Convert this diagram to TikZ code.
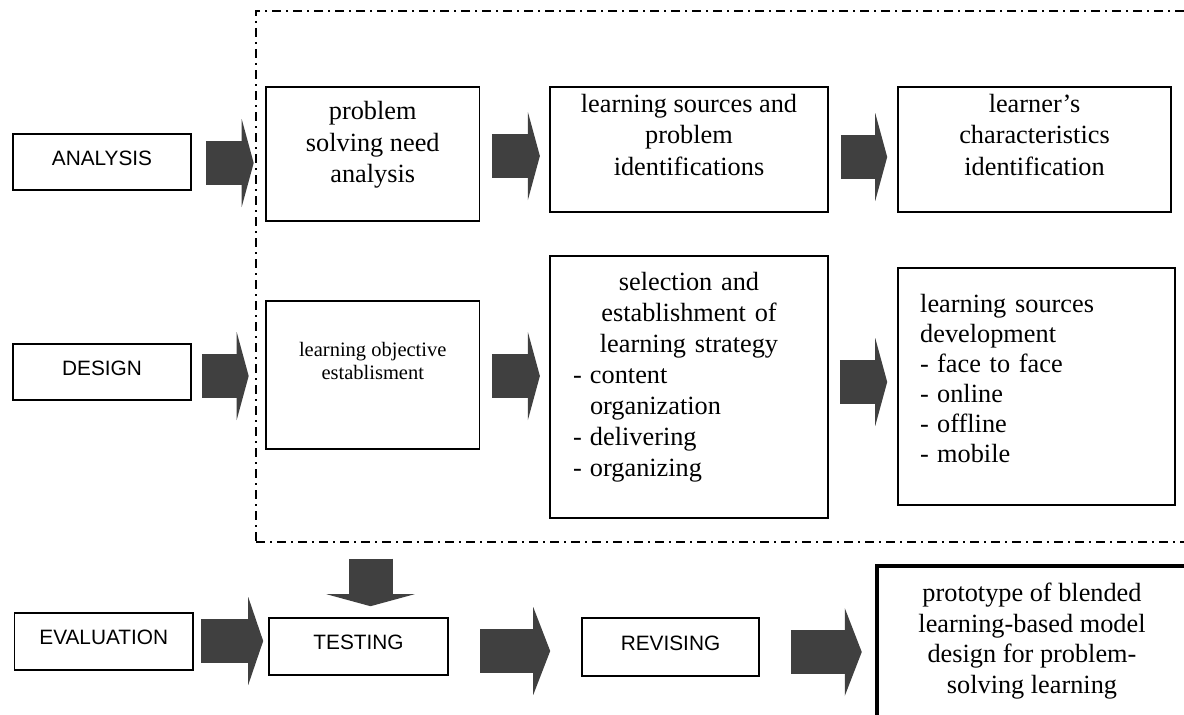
\documentclass[tikz,border=0pt]{standalone}
\usepackage{fontspec}
\setmainfont{Liberation Serif}
\setsansfont{Liberation Sans}
\usetikzlibrary{arrows.meta}
\definecolor{arrowgrey}{HTML}{404040}
\newcommand{\itm}{\makebox[17pt][l]{-}}

\begin{document}
\begin{tikzpicture}[x=1pt, y=-1pt,
    box/.style = {draw, line width=1.6pt, inner sep=0pt},
    phase/.style = {box, text depth=8pt, font=\sffamily\fontsize{20.8}{25}\selectfont},
    task/.style = {align=center, inner sep=0pt, font=\fontsize{26.3}{31.5}\selectfont},
    list/.style = {text width=#1, inner sep=0pt, font=\fontsize{26.3}{31}\selectfont},
    fat/.style = {color=arrowgrey, line width=44pt, -{Triangle[length=#1, width=88pt, line width=0pt]}},
    fat/.default = 12pt,
    frame/.style = {draw, line width=1.4pt, dash pattern=on 9pt off 5pt on 2pt off 5pt}]
\useasboundingbox (0,0) rectangle (1184,715);
\clip (0,0) rectangle (1184,715);

% dash-dotted frame round analysis and design
\node[frame, minimum width=944pt, minimum height=531pt] (phase) at (728,276.5) {};

% phases
\node[phase, minimum width=178pt, minimum height=56pt] (ana) at (102,162) {ANALYSIS};
\node[phase, minimum width=178pt, minimum height=56pt] (des) at (102,372) {DESIGN};
\node[phase, minimum width=178.5pt, minimum height=57pt] (eva) at (103.75,641.5) {EVALUATION};

% analysis
\node[box, minimum width=213.5pt, minimum height=134pt] (solve) at (372.75,154) {};
\node[task] (solveT) at (372.75,145) {problem\\solving need\\analysis};
\node[box, minimum width=278pt, minimum height=125pt] (ident) at (689,149.5) {};
\node[task] (identT) at (689,135) {learning sources and\\problem\\identifications};
\node[box, minimum width=273pt, minimum height=125pt] (learner) at (1034.5,149.5) {};
\node[task] (learnerT) at (1034.5,135) {learner’s\\characteristics\\identification};

% design
\node[box, minimum width=213.5pt, minimum height=148pt] (objective) at (372.75,375) {};
\node[task, font=\fontsize{20.5}{22.5}\selectfont] (objectiveT) at (372.75,361) {learning objective\\establisment};
\node[box, minimum width=278pt, minimum height=262pt] (strategy) at (689,387) {};
\node[list=262pt] (strategyT) at (689,377.5) {{\centering selection and\\establishment of\\learning strategy\par}
  \hspace*{15pt}\itm content\\
  \hspace*{32pt}organization\\
  \hspace*{15pt}\itm delivering\\
  \hspace*{15pt}\itm organizing};
\node[box, minimum width=277pt, minimum height=237pt] (media) at (1036.5,386.5) {};
\node[list=240pt, font=\fontsize{26.3}{30}\selectfont, anchor=west] (mediaT) at (920,379) {learning sources\\development\\\itm face to face\\\itm online\\\itm offline\\\itm mobile};

% evaluation
\node[phase, minimum width=179pt, minimum height=57pt] (test) at (358.5,646.5) {TESTING};
\node[phase, minimum width=177pt, minimum height=58pt] (rev) at (670.5,647) {REVISING};
\node[box, line width=4.5pt, minimum width=312pt, minimum height=154pt] (proto) at (1033,643) {};
\node[task, font=\fontsize{26.3}{30.5}\selectfont] (protoT) at (1032,641) {prototype of blended\\learning-based model\\design for problem-\\solving learning};

% block arrows
\draw[fat, shorten <=14pt, shorten >=11.5pt] (ana.east |- 0,163) -- (solve.west |- 0,163);
\draw[fat, shorten <=11.5pt, shorten >=9.3pt] (solve.east |- 0,156) -- (ident.west |- 0,156);
\draw[fat, shorten <=12pt, shorten >=10pt] (ident.east |- 0,157) -- (learner.west |- 0,157);
\draw[fat, shorten <=10pt, shorten >=16.5pt] (des.east |- 0,376) -- (objective.west |- 0,376);
\draw[fat, shorten <=11.5pt, shorten >=9.3pt] (objective.east |- 0,376) -- (strategy.west |- 0,376);
\draw[fat, shorten <=11pt, shorten >=10pt] (strategy.east |- 0,382) -- (media.west |- 0,382);
\draw[fat, shorten <=16pt, shorten >=11pt] (phase.south -| 370.5,0) -- (test.north -| 370.5,0);
\draw[fat=15pt, shorten <=7pt, shorten >=5pt] (eva.east |- 0,641) -- (test.west |- 0,641);
\draw[fat=17pt, shorten <=31.5pt, shorten >=31pt] (test.east |- 0,651) -- (rev.west |- 0,651);
\draw[fat=17pt, shorten <=31pt, shorten >=13pt] (rev.east |- 0,652) -- (proto.west |- 0,652);
\end{tikzpicture}
\end{document}
